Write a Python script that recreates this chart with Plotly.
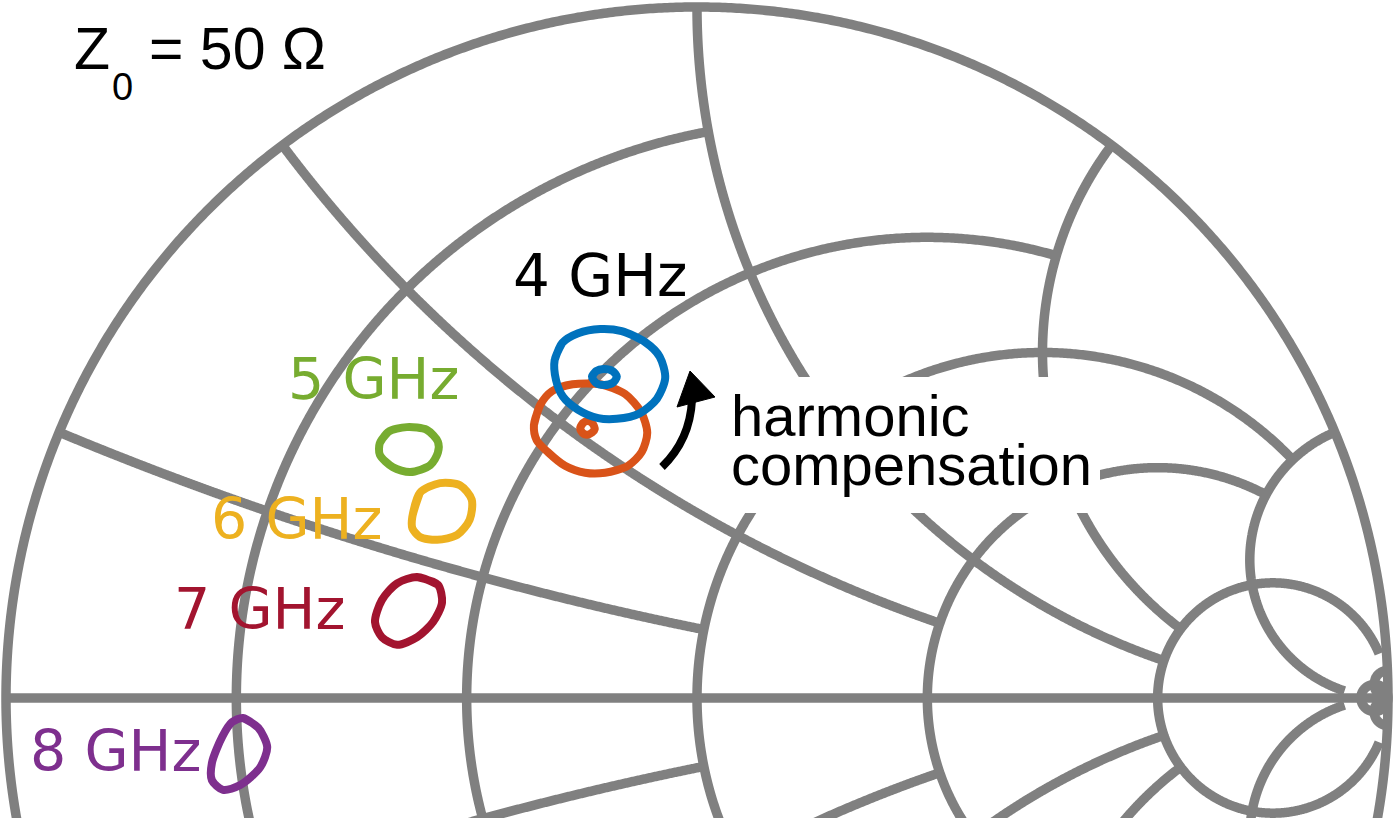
import numpy as np
import plotly.graph_objects as go

# ---------------- data ----------------
# Smith-chart grid (normalised to Z0 = 50 ohm), MATLAB-style truncated grid
grid_r_values = [0.2, 0.5, 1, 2, 5]      # constant-resistance circles
grid_r_limits = [1, 2, 5, 5, 30]         # reactance at which each circle stops
grid_x_values = [0.2, 0.5, 1, 2, 5]      # constant-reactance arcs
grid_x_limits = [1, 2, 5, 5, 30]         # resistance at which each arc stops
extra_r_full = [50]                      # small full circle near open circuit
extra_x_full = [50]                      # full reactance arcs near open circuit

freq_labels = ["4 GHz", "5 GHz", "6 GHz", "7 GHz", "8 GHz"]

# reflection-coefficient loops (Re, Im)
g4_re = [-0.206, -0.195, -0.172, -0.140, -0.109, -0.075, -0.054, -0.046, -0.058, -0.083, -0.116, -0.143, -0.172, -0.194, -0.204]
g4_im = [0.489, 0.514, 0.528, 0.534, 0.531, 0.515, 0.494, 0.463, 0.433, 0.412, 0.404, 0.405, 0.417, 0.436, 0.460]
g4_in_re = [-0.152, -0.146, -0.135, -0.122, -0.116, -0.122, -0.135, -0.146]
g4_in_im = [0.465, 0.473, 0.476, 0.473, 0.465, 0.456, 0.453, 0.456]

g4c_re = [-0.236, -0.227, -0.210, -0.180, -0.140, -0.104, -0.081, -0.072, -0.080, -0.100, -0.133, -0.162, -0.191, -0.216, -0.232]
g4c_im = [0.395, 0.424, 0.444, 0.454, 0.454, 0.440, 0.414, 0.384, 0.356, 0.336, 0.326, 0.326, 0.336, 0.356, 0.373]
g4c_in_re = [-0.169, -0.165, -0.158, -0.151, -0.148, -0.152, -0.159, -0.166]
g4c_in_im = [0.391, 0.398, 0.401, 0.397, 0.389, 0.384, 0.381, 0.384]

g5_re = [-0.459, -0.447, -0.420, -0.391, -0.375, -0.375, -0.386, -0.415, -0.440, -0.459]
g5_im = [0.369, 0.385, 0.392, 0.388, 0.371, 0.355, 0.337, 0.327, 0.334, 0.352]

g6_re = [-0.412, -0.401, -0.372, -0.343, -0.326, -0.329, -0.347, -0.376, -0.401, -0.412]
g6_im = [0.262, 0.297, 0.311, 0.308, 0.287, 0.258, 0.236, 0.229, 0.233, 0.246]

g7_re = [-0.405, -0.375, -0.369, -0.382, -0.405, -0.434, -0.456, -0.466, -0.456, -0.434]
g7_im = [0.175, 0.164, 0.138, 0.110, 0.088, 0.077, 0.088, 0.110, 0.142, 0.166]

g8_re = [-0.657, -0.635, -0.622, -0.632, -0.661, -0.686, -0.702, -0.702, -0.687, -0.673]
g8_im = [-0.029, -0.043, -0.071, -0.100, -0.126, -0.133, -0.119, -0.094, -0.056, -0.035]

# ---------------- styles / layout constants ----------------
W, H = 1400, 818
CX, CY, RP = 697.0, 698.0, 691.0    # chart centre and radius in pixels
GRID = "#808080"
GRID_W, LOOP_W = 9.5, 8
C_BLUE, C_ORANGE, C_YELLOW = "#0072BD", "#D95319", "#EDB120"
C_PURPLE, C_GREEN, C_RED = "#7E2F8E", "#77AC30", "#A2142F"


def P(px, py):
    """pixel -> chart (data) coordinates, used only for placing text / shapes"""
    return (px - CX) / RP, (CY - py) / RP


def gam(z):
    return (z - 1) / (z + 1)


gx, gy = [], []


def add(pts):
    gx.extend(list(pts.real) + [None])
    gy.extend(list(pts.imag) + [None])


# outer circle (r = 0) and real axis
th = np.linspace(0, 2 * np.pi, 1500)
add(np.exp(1j * th))
add(np.array([-1 + 0j, 1 + 0j]))

# resistance circles truncated at reactance limit
for r, lim in zip(grid_r_values, grid_r_limits):
    c, a = r / (1 + r), 1 / (1 + r)
    thL = np.angle(gam(r + 1j * lim) - c)
    th = np.linspace(thL, 2 * np.pi - thL, 900)
    add(c + a * np.exp(1j * th))

# reactance arcs truncated at resistance limit
for xv, lim in zip(grid_x_values, grid_x_limits):
    for s in (1, -1):
        x = s * xv
        c = 1 + 1j / x
        t0 = np.angle(gam(1j * x) - c)
        t1 = np.angle(gam(lim + 1j * x) - c)
        d = (t1 - t0) % (2 * np.pi) if s > 0 else -((t0 - t1) % (2 * np.pi))
        th = np.linspace(t0, t0 + d, 700)
        add(c + abs(1 / x) * np.exp(1j * th))

for r in extra_r_full:
    c, a = r / (1 + r), 1 / (1 + r)
    add(c + a * np.exp(1j * np.linspace(0, 2 * np.pi, 300)))

for xv in extra_x_full:
    for s in (1, -1):
        x = s * xv
        c = 1 + 1j / x
        t0 = np.angle(gam(1j * x) - c)
        t1 = np.angle(1 - c)
        d = (t1 - t0) % (2 * np.pi) if s > 0 else -((t0 - t1) % (2 * np.pi))
        add(c + abs(1 / x) * np.exp(1j * np.linspace(t0, t0 + d, 300)))

fig = go.Figure()
fig.add_trace(go.Scatter(x=gx, y=gy, mode="lines",
                         line=dict(color=GRID, width=GRID_W, simplify=False),
                         hoverinfo="skip"))

loops = [
    (g4c_re, g4c_im, C_ORANGE), (g4c_in_re, g4c_in_im, C_ORANGE),
    (g4_re, g4_im, C_BLUE), (g4_in_re, g4_in_im, C_BLUE),
    (g5_re, g5_im, C_GREEN), (g6_re, g6_im, C_YELLOW),
    (g7_re, g7_im, C_RED), (g8_re, g8_im, C_PURPLE),
]
for re, im, col in loops:
    # close the loop (wrap two points so the spline joins smoothly)
    fig.add_trace(go.Scatter(x=list(re) + list(re[:2]), y=list(im) + list(im[:2]), mode="lines",
                             line=dict(color=col, width=LOOP_W, shape="spline",
                                       smoothing=0.8, simplify=False),
                             hoverinfo="skip"))

# ---------------- shapes ----------------
shapes = []
x0, y0 = P(722, 377)
x1, y1 = P(1100, 513)
shapes.append(dict(type="rect", xref="x", yref="y", x0=x0, y0=y1, x1=x1, y1=y0,
                   fillcolor="white", line=dict(width=0), layer="above"))
a0, b0 = P(662, 467)
ac, bc = P(690, 440)
a1, b1 = P(692, 400)
shapes.append(dict(type="path", xref="x", yref="y", layer="above",
                   path=f"M {a0},{b0} Q {ac},{bc} {a1},{b1}",
                   line=dict(color="black", width=8)))
t0_, t0b = P(690, 371)
t1_, t1b = P(677, 407)
t2_, t2b = P(715, 397)
shapes.append(dict(type="path", xref="x", yref="y", layer="above",
                   path=f"M {t0_},{t0b} L {t1_},{t1b} L {t2_},{t2b} Z",
                   fillcolor="black", line=dict(color="black", width=1)))

# ---------------- annotations ----------------
ann = []


def text(s, px, py, size, color, family, xanchor="center"):
    u, v = P(px, py)
    ann.append(dict(text=s, x=u, y=v, xref="x", yref="y", showarrow=False,
                    xanchor=xanchor, yanchor="middle",
                    font=dict(size=size, color=color, family=family)))


SANS = "Liberation Sans, Arial, sans-serif"
DV = "DejaVu Sans, Verdana, sans-serif"
text("Z", 72, 49, 59, "black", SANS, "left")
text("0", 110, 87, 38, "black", SANS, "left")
text("= 50 Ω", 147, 49, 59, "black", SANS, "left")

text(freq_labels[0], 600, 276, 58, "black", DV)
text(freq_labels[1], 373, 379, 57, C_GREEN, DV)
text(freq_labels[2], 296, 519, 57, C_YELLOW, DV)
text(freq_labels[3], 259, 609, 57, C_RED, DV)
text(freq_labels[4], 115, 751, 57, C_PURPLE, DV)

text("harmonic", 729, 415, 58, "black", SANS, "left")
text("compensation", 729, 464, 58, "black", SANS, "left")

fig.update_layout(
    width=W, height=H, margin=dict(l=0, r=0, t=0, b=0, pad=0),
    paper_bgcolor="white", plot_bgcolor="white", showlegend=False,
    xaxis=dict(range=[(0 - CX) / RP, (W - CX) / RP], visible=False, fixedrange=True),
    yaxis=dict(range=[(CY - H) / RP, CY / RP], visible=False, fixedrange=True),
    shapes=shapes, annotations=ann,
)

fig.write_html("out.html", config={"displayModeBar": False},
               post_script="document.body.style.margin='0';document.body.style.overflow='hidden';")
